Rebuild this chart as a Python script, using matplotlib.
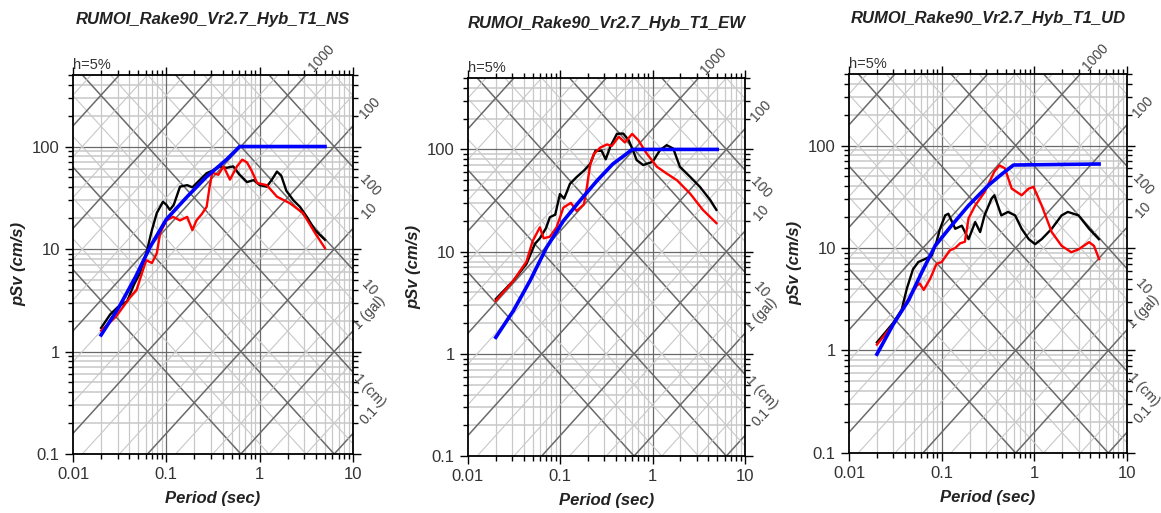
import numpy as np
import matplotlib
matplotlib.use('Agg')
import matplotlib.pyplot as plt

plt.rcParams['font.family'] = ['Liberation Sans', 'DejaVu Sans']

titles = ['RUMOI_Rake90_Vr2.7_Hyb_T1_NS',
          'RUMOI_Rake90_Vr2.7_Hyb_T1_EW',
          'RUMOI_Rake90_Vr2.7_Hyb_T1_UD']

# NS
t_ns_blk = [0.02, 0.025, 0.03, 0.038, 0.045, 0.052, 0.061, 0.07, 0.079, 0.092, 0.1, 0.109, 0.12,
            0.14, 0.167, 0.19, 0.23, 0.27, 0.31, 0.37, 0.44, 0.52, 0.61, 0.73, 0.86, 1.0, 1.19,
            1.35, 1.53, 1.7, 1.93, 2.3, 2.7, 3.2, 3.9, 5.0]
sv_ns_blk = [1.7, 2.3, 2.7, 3.1, 4.5, 5.8, 9.1, 15.3, 22.5, 28.9, 27, 24.1, 27,
             40.6, 42, 40, 47.5, 55, 58, 64, 62, 64, 53, 45, 47, 42, 40.6,
             47.5, 57, 52, 37, 29.8, 25.8, 20.6, 15.3, 12.3]
t_ns_red = [0.02, 0.029, 0.041, 0.048, 0.056, 0.061, 0.066, 0.07, 0.079, 0.086, 0.1, 0.118, 0.14,
            0.167, 0.19, 0.21, 0.24, 0.27, 0.29, 0.31, 0.36, 0.41, 0.48, 0.57, 0.65, 0.73, 0.82,
            0.94, 1.19, 1.53, 2.1, 2.9, 3.9, 5.0]
sv_ns_red = [1.6, 2.2, 3.4, 4.0, 6.2, 7.8, 7.5, 7.3, 9.1, 14.4, 19, 20.6, 19,
             20.6, 15.3, 19, 22, 25.8, 40, 55.6, 53, 64, 47.5, 64, 74.5, 70, 58,
             44, 42, 32.4, 28, 22.5, 14.4, 10.2]
t_ns_blu = [0.02, 0.031, 0.047, 0.067, 0.1, 0.167, 0.27, 0.44, 0.61, 5.0]
sv_ns_blu = [1.45, 2.7, 5.4, 10.5, 19.5, 32.4, 50.8, 74.5, 100, 100]

# EW
t_ew_blk = [0.02, 0.031, 0.043, 0.053, 0.06, 0.07, 0.077, 0.088, 0.099, 0.11, 0.127, 0.15, 0.18,
            0.21, 0.24, 0.28, 0.31, 0.35, 0.41, 0.48, 0.55, 0.62, 0.67, 0.79, 1.0, 1.2, 1.42,
            1.67, 1.97, 2.54, 3.25, 4.2, 4.9]
sv_ew_blk = [3.44, 5.2, 7.6, 11.9, 13.5, 17, 21.7, 23, 36.6, 33, 46, 53.6, 62,
             72, 97, 97, 80, 108, 142, 143, 123, 95, 78.7, 70.3, 75.7, 98.5, 110,
             102, 67.7, 54, 43, 32, 25.6]
t_ew_red = [0.02, 0.031, 0.043, 0.05, 0.06, 0.066, 0.077, 0.091, 0.108, 0.13, 0.15, 0.18, 0.194,
            0.21, 0.23, 0.27, 0.32, 0.36, 0.43, 0.5, 0.6, 0.7, 0.86, 1.11, 1.42, 1.83, 2.54,
            3.5, 4.9]
sv_ew_red = [3.3, 5.2, 8, 12.6, 17.3, 13.5, 14, 17.3, 27, 30, 25, 29, 43,
             70, 90, 104, 112, 108, 133, 117, 142, 123, 91.4, 67.7, 58, 50, 37,
             25.6, 19]
t_ew_blu = [0.02, 0.031, 0.047, 0.071, 0.108, 0.164, 0.25, 0.37, 0.5, 0.6, 5.0]
sv_ew_blu = [1.45, 2.64, 5.2, 11, 20, 31.7, 49.5, 72, 88, 100, 100]

# UD
t_ud_blk = [0.02, 0.03, 0.037, 0.042, 0.049, 0.056, 0.066, 0.078, 0.088, 0.095, 0.109, 0.118, 0.14,
            0.165, 0.195, 0.23, 0.26, 0.29, 0.345, 0.37, 0.44, 0.52, 0.62, 0.73, 0.87, 1.02,
            1.2, 1.54, 1.97, 2.3, 3.0, 3.9, 4.97]
sv_ud_blk = [1.2, 1.86, 2.5, 4.0, 6.2, 7.3, 7.8, 8.4, 11.5, 15, 20.8, 21.6, 15.4,
             16.5, 12.2, 17.9, 14.3, 20.8, 30.3, 32.7, 20.8, 22.5, 20.8, 15.4, 12.2, 10.9,
             12.2, 15.4, 20.8, 22.5, 20.8, 15.4, 12.2]
t_ud_red = [0.02, 0.03, 0.042, 0.054, 0.058, 0.064, 0.075, 0.088, 0.1, 0.123, 0.14, 0.158, 0.178,
            0.195, 0.23, 0.29, 0.37, 0.42, 0.48, 0.57, 0.73, 0.87, 0.98, 1.2, 1.54, 1.97,
            2.5, 3.0, 3.9, 4.4, 5.0]
sv_ud_red = [1.14, 1.8, 3.0, 4.3, 4.5, 3.9, 5.0, 7.0, 7.3, 9.5, 10, 11.1, 11.5,
             19.5, 26, 35, 55.6, 64, 60, 38, 32.7, 38, 39.5, 26, 14.3, 10.5,
             9.1, 9.7, 11.4, 10.5, 7.8]
t_ud_blu = [0.02, 0.03, 0.044, 0.061, 0.085, 0.128, 0.195, 0.32, 0.45, 0.596, 5.0]
sv_ud_blu = [0.92, 1.8, 3.1, 5.8, 10.5, 16.6, 26, 41, 53, 64.5, 66]

panels = [
    (t_ns_blk, sv_ns_blk, t_ns_red, sv_ns_red, t_ns_blu, sv_ns_blu),
    (t_ew_blk, sv_ew_blk, t_ew_red, sv_ew_red, t_ew_blu, sv_ew_blu),
    (t_ud_blk, sv_ud_blk, t_ud_red, sv_ud_red, t_ud_blu, sv_ud_blu),
]

# axes boxes in figure fraction (left, bottom, width, height)
boxes = [(0.0629, 0.115, 0.2412, 0.739),
         (0.4031, 0.111, 0.2386, 0.737),
         (0.7313, 0.117, 0.2394, 0.739)]

light = '#c8c8c8'
dark = '#6a6a6a'
tp = 2 * np.pi
tt = np.array([0.005, 20.0])

fig = plt.figure(figsize=(11.61, 5.13), dpi=100)

for i, (tb, sb, tr, sr, tu, su) in enumerate(panels):
    ax = fig.add_axes(boxes[i])
    ax.set_xscale('log')
    ax.set_yscale('log')

    # horizontal / vertical grid
    for d in [0.01, 0.1, 1]:
        for k in range(2, 10):
            ax.axvline(k * d, color=light, lw=0.9, zorder=1)
    for d in [0.1, 1, 10, 100]:
        for k in range(2, 10):
            if k * d <= 500:
                ax.axhline(k * d, color=light, lw=1.1, zorder=1)
    for v in [0.1, 1]:
        ax.axvline(v, color=dark, lw=0.9, zorder=1)
    for v in [1, 10, 100]:
        ax.axhline(v, color=dark, lw=0.9, zorder=1)

    # tripartite diagonals
    for e in range(-2, 6):
        for m in [1, 2, 5]:
            c = dark if m == 1 else light
            lw = 1.1 if m == 1 else 0.8
            a = m * 10.0 ** e
            ax.plot(tt, a * tt / tp, color=c, lw=lw, zorder=1)
            ax.plot(tt, tp * a / tt, color=c, lw=lw, zorder=1)

    ax.plot(tb, sb, color='black', lw=1.7, zorder=3)
    ax.plot(tr, sr, color='#ff0000', lw=1.7, zorder=3)
    ax.plot(tu, su, color='#0000ff', lw=2.6, zorder=4)

    ax.set_xlim(0.01, 10)
    ax.set_ylim(0.1, 500)

    # diagonal labels
    gal = [(0.1, '0.1'), (1, '1 (gal)'), (10, '10'), (100, '100')]
    for a, s in gal:
        ax.text(15, a * 15 / tp, s, rotation=47, ha='center', va='center',
                fontsize=10, color='#444444', clip_on=False)
    ax.text(4.6, 1000 * 4.6 / tp, '1000', rotation=47, ha='center', va='center',
            fontsize=10, color='#444444', clip_on=False)
    cm = [(1, '1 (cm)'), (10, '10'), (100, '100')]
    for dd, s in cm:
        ax.text(15, tp * dd / 15, s, rotation=-47, ha='center', va='center',
                fontsize=10, color='#444444', clip_on=False)

    ax.set_xticks([0.01, 0.1, 1, 10])
    ax.set_xticklabels(['0.01', '0.1', '1', '10'])
    ax.set_yticks([0.1, 1, 10, 100])
    ax.set_yticklabels(['0.1', '1', '10', '100'])
    ax.tick_params(which='both', direction='out', top=True, right=True,
                   labeltop=False, labelright=False, labelsize=12,
                   labelcolor='#333333', width=1.0)
    ax.tick_params(which='major', length=6)
    ax.tick_params(which='minor', length=3.5)
    for sp in ax.spines.values():
        sp.set_linewidth(1.3)
        sp.set_zorder(5)

    ax.set_xlabel('Period (sec)', fontsize=12, fontweight='bold', style='italic',
                  labelpad=6, color='#222222')
    ax.set_ylabel('pSv (cm/s)', fontsize=12, fontweight='bold', style='italic',
                  labelpad=4, color='#222222')
    ax.text(0.0, 1.008, 'h=5%', transform=ax.transAxes, ha='left', va='bottom',
            fontsize=10.5, color='#333333')
    ax.text(0.5, 1.145, titles[i], transform=ax.transAxes, ha='center', va='center',
            fontsize=12, fontweight='bold', style='italic', color='#222222')

plt.savefig('out.png', dpi=100, facecolor='white')
